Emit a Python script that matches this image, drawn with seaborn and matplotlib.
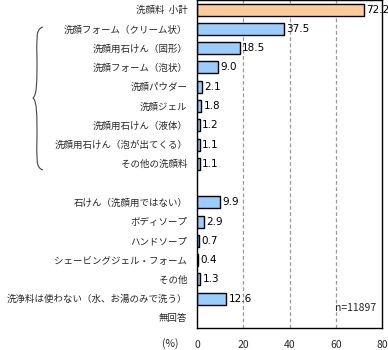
import matplotlib
matplotlib.use("Agg")
import matplotlib.pyplot as plt
from matplotlib.path import Path
from matplotlib.patches import PathPatch
import seaborn as sns
import pandas as pd
import numpy as np

sns.set_theme(style="white")
plt.rcParams['font.family'] = ['Noto Sans CJK JP', 'DejaVu Sans']

categories = ["洗顔料  小計", "洗顔フォーム（クリーム状）", "洗顔用石けん（固形）", "洗顔フォーム（泡状）",
              "洗顔パウダー", "洗顔ジェル", "洗顔用石けん（液体）", "洗顔用石けん（泡が出てくる）",
              "その他の洗顔料", " ", "石けん（洗顔用ではない）", "ボディソープ", "ハンドソープ",
              "シェービングジェル・フォーム", "その他", "洗浄料は使わない（水、お湯のみで洗う）", "無回答"]
values = [72.2, 37.5, 18.5, 9.0, 2.1, 1.8, 1.2, 1.1, 1.1, None, 9.9, 2.9, 0.7, 0.4, 1.3, 12.6, None]
value_labels = ["72.2", "37.5", "18.5", "9.0", "2.1", "1.8", "1.2", "1.1", "1.1", "", "9.9", "2.9",
                "0.7", "0.4", "1.3", "12.6", ""]
xticks = [0, 20, 40, 60, 80]
sample_note = "n=11897"
unit_label = "(%)"

df = pd.DataFrame({"cat": categories, "val": values}).dropna()
palette = {c: ("#FFCC99" if i == 0 else "#99CCFF") for i, c in enumerate(categories)}

fig = plt.figure(figsize=(3.88, 3.5), dpi=100)
ax = fig.add_axes([197/388, 1 - 327.6/350, (382-197)/388, 327.6/350])

sns.barplot(data=df, y="cat", x="val", order=categories, hue="cat", palette=palette,
            legend=False, orient="h", width=0.62, edgecolor="black", linewidth=1.0,
            saturation=1, ax=ax)

ax.set_xlim(0, 80)
ax.set_ylim(len(categories) - 0.5, -0.5)
ax.set_xticks(xticks)
ax.set_xticklabels([str(t) for t in xticks], fontsize=7.5)
ax.tick_params(axis='x', length=0, pad=9)
ax.set_yticks(range(len(categories)))
ax.set_yticklabels(categories, fontsize=6.8)
ax.tick_params(axis='y', length=0, pad=7)
ax.set_yticks(np.arange(-0.5, len(categories), 1), minor=True)
ax.tick_params(axis='y', which='minor', length=3, direction='inout', color='black', width=0.8)
ax.set_xlabel("")
ax.set_ylabel("")
for x in xticks[1:-1]:
    ax.axvline(x, color="#999999", linestyle=(0, (3, 2)), linewidth=0.9, zorder=0)
for s in ax.spines.values():
    s.set_color("black")
    s.set_linewidth(1.0)

for i, (v, lab) in enumerate(zip(values, value_labels)):
    if v is not None:
        ax.text(v + 1.0, i, lab, va="center", ha="left", fontsize=7.5, color="black",
                family=['DejaVu Sans'])

ax.text(0.97, 0.06, sample_note, transform=ax.transAxes, ha="right", va="center", fontsize=7.5)
fig.text(170/388, 1 - 344/350, unit_label, ha="center", va="center", fontsize=7.5)

# curly brace in figure pixel coordinates
H = 350.0
def p(x, y):
    return (x/388.0, 1 - y/H)
verts = [p(43, 27), p(35, 29), p(37, 40), p(37, 60),
         p(37, 80), p(37, 95), p(33, 98),
         p(37, 101), p(37, 116), p(37, 136),
         p(37, 156), p(35, 168), p(43, 170)]
codes = [Path.MOVETO, Path.CURVE4, Path.CURVE4, Path.CURVE4,
         Path.CURVE4, Path.CURVE4, Path.CURVE4,
         Path.CURVE4, Path.CURVE4, Path.CURVE4,
         Path.CURVE4, Path.CURVE4, Path.CURVE4]
fig.patches.append(PathPatch(Path(verts, codes), transform=fig.transFigure,
                             fill=False, edgecolor="#444444", linewidth=0.8))

fig.savefig("out.png", dpi=100)
